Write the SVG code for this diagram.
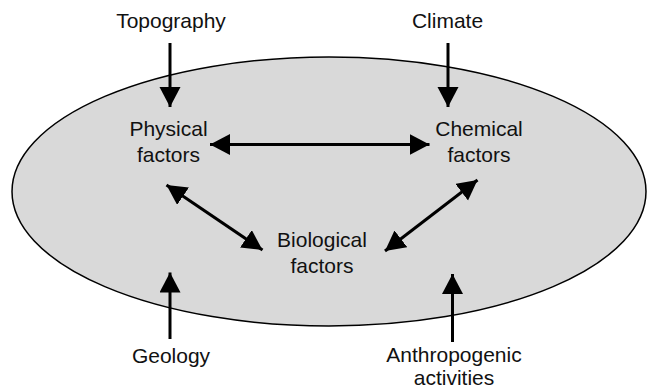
<svg xmlns="http://www.w3.org/2000/svg" width="648" height="387" viewBox="0 0 648 387">
  <style>
    .lbl { font-family: "Liberation Sans", Arial, sans-serif; font-size: 21px; fill: #111; text-anchor: middle; }
    .arr { stroke: #000; stroke-width: 3; fill: none; }
  </style>
  <defs>
    <marker id="head" markerUnits="userSpaceOnUse" markerWidth="22" markerHeight="22" refX="20" refY="10.5" orient="auto-start-reverse">
      <path d="M0,0 L20,10.5 L0,21 Z" fill="#000"/>
    </marker>
  </defs>
  <rect width="648" height="387" fill="#fff"/>

  <!-- enclosing system -->
  <g id="system">
    <ellipse cx="329" cy="191.5" rx="317" ry="134.5" fill="#d9d9d9" stroke="#000" stroke-width="1.5"/>
  </g>

  <!-- connectors -->
  <g id="connectors">
    <line class="arr" x1="170" y1="43" x2="170" y2="107" marker-end="url(#head)"/>
    <line class="arr" x1="448" y1="43" x2="448" y2="107" marker-end="url(#head)"/>
    <line class="arr" x1="210" y1="144.5" x2="429.5" y2="144.5" marker-start="url(#head)" marker-end="url(#head)"/>
    <line class="arr" x1="166.5" y1="185" x2="262.5" y2="250" marker-start="url(#head)" marker-end="url(#head)"/>
    <line class="arr" x1="385" y1="251" x2="477.5" y2="180" marker-start="url(#head)" marker-end="url(#head)"/>
    <line class="arr" x1="170" y1="339" x2="170" y2="272.5" marker-end="url(#head)"/>
    <line class="arr" x1="452.5" y1="342" x2="452.5" y2="274" marker-end="url(#head)"/>
  </g>

  <g id="topography"><text class="lbl" x="171" y="27.5">Topography</text></g>
  <g id="climate"><text class="lbl" x="447.5" y="27.5">Climate</text></g>
  <g id="physical"><text class="lbl" x="168.5" y="136">Physical</text><text class="lbl" x="168.5" y="162">factors</text></g>
  <g id="chemical"><text class="lbl" x="479" y="136">Chemical</text><text class="lbl" x="479" y="162">factors</text></g>
  <g id="biological"><text class="lbl" x="322" y="247">Biological</text><text class="lbl" x="322" y="273">factors</text></g>
  <g id="geology"><text class="lbl" x="171" y="362.5">Geology</text></g>
  <g id="anthropogenic"><text class="lbl" x="454" y="362">Anthropogenic</text><text class="lbl" x="454" y="384.5">activities</text></g>
</svg>
